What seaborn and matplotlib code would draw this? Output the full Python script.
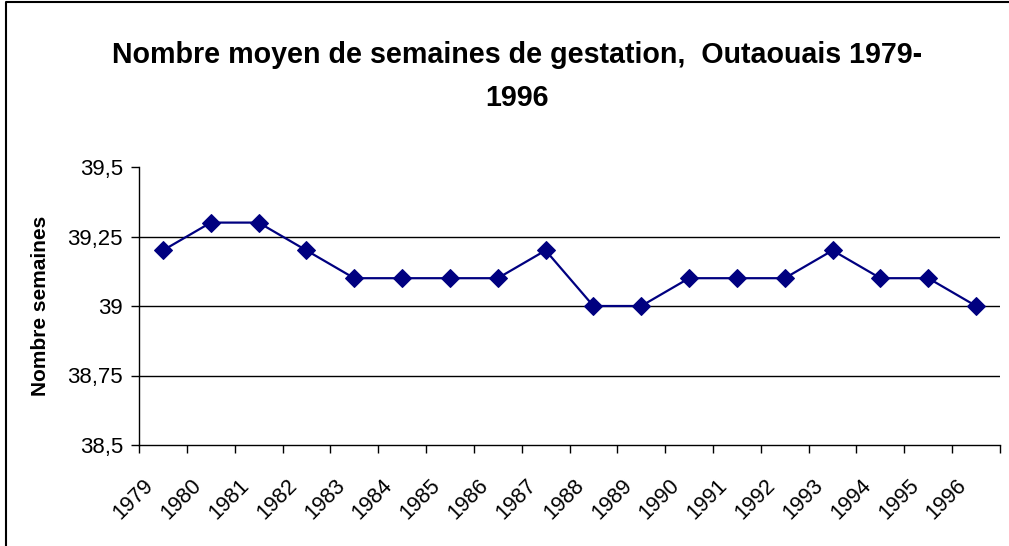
import matplotlib
matplotlib.use("Agg")
import matplotlib.pyplot as plt
import seaborn as sns
import pandas as pd
import numpy as np
from matplotlib.ticker import FixedLocator, FuncFormatter, NullFormatter
from matplotlib.lines import Line2D
from matplotlib.transforms import ScaledTranslation

years = ["1979", "1980", "1981", "1982", "1983", "1984", "1985", "1986", "1987",
         "1988", "1989", "1990", "1991", "1992", "1993", "1994", "1995", "1996"]
weeks = [39.2, 39.3, 39.3, 39.2, 39.1, 39.1, 39.1, 39.1, 39.2,
         39.0, 39.0, 39.1, 39.1, 39.1, 39.2, 39.1, 39.1, 39.0]
y_ticks = [38.5, 38.75, 39.0, 39.25, 39.5]

title = "Nombre moyen de semaines de gestation,  Outaouais 1979-\n1996"
ylabel = "Nombre semaines"

sns.set_style("white")
plt.rcParams['font.family'] = ['Liberation Sans', 'DejaVu Sans']
for k in ["text.color", "axes.labelcolor", "xtick.color", "ytick.color"]:
    plt.rcParams[k] = "#000000"

df = pd.DataFrame({"pos": np.arange(len(years)), "val": weeks})

fig = plt.figure(figsize=(10.09, 5.46), dpi=100)
ax = fig.add_axes([139/1009, 101/546, 861/1009, 278/546])

for yv in y_ticks[1:-1]:
    ax.axhline(yv, color="#000000", lw=1, zorder=1)

sns.lineplot(data=df, x="pos", y="val", ax=ax, color="#000080", lw=1.6,
             marker="D", markersize=9.5, markeredgecolor="#000080", zorder=3)

ax.set_xlim(-0.5, len(years) - 0.5)
ax.set_ylim(38.5, 39.5)
ax.set_yticks(y_ticks)
ax.yaxis.set_major_formatter(FuncFormatter(lambda v, p: ("%g" % v).replace(".", ",")))
ax.tick_params(axis="y", which="major", direction="out", length=6, width=1,
               color="#000000", labelsize=16, pad=5.5, left=True)

ax.xaxis.set_major_locator(FixedLocator(np.arange(-0.5, len(years), 1.0)))
ax.xaxis.set_major_formatter(NullFormatter())
ax.set_xticks(np.arange(len(years)), labels=years, minor=True)
ax.tick_params(axis="x", which="major", direction="out", length=6, width=1,
               color="#000000", bottom=True)
ax.tick_params(axis="x", which="minor", length=0, labelsize=15.5, pad=21.5)
shift = ScaledTranslation(-0.20, 0, fig.dpi_scale_trans)
for tick in ax.xaxis.get_minor_ticks():
    lab = tick.label1
    lab.set_rotation(45)
    lab.set_ha("right")
    lab.set_va("top")
    lab.set_rotation_mode("anchor")
    lab.set_transform(lab.get_transform() + shift)

for s in ["top", "right"]:
    ax.spines[s].set_visible(False)
for s in ["left", "bottom"]:
    ax.spines[s].set_color("#000000")
    ax.spines[s].set_linewidth(1)

ax.set_xlabel("")
ax.set_ylabel(ylabel, fontsize=15, fontweight="bold")
ax.yaxis.set_label_coords(-0.103, 0.5)

fig.text(0.512, 0.925, title, ha="center", va="top", fontsize=20.6,
         fontweight="bold", linespacing=1.7)

# outer chart frame (top and left edges visible within the image)
fig.add_artist(Line2D([6/1009, 6/1009, 1.0], [0.0, 1 - 2/546, 1 - 2/546],
                      transform=fig.transFigure, color="#000000", lw=1.5))

fig.savefig("out.png", dpi=100)
